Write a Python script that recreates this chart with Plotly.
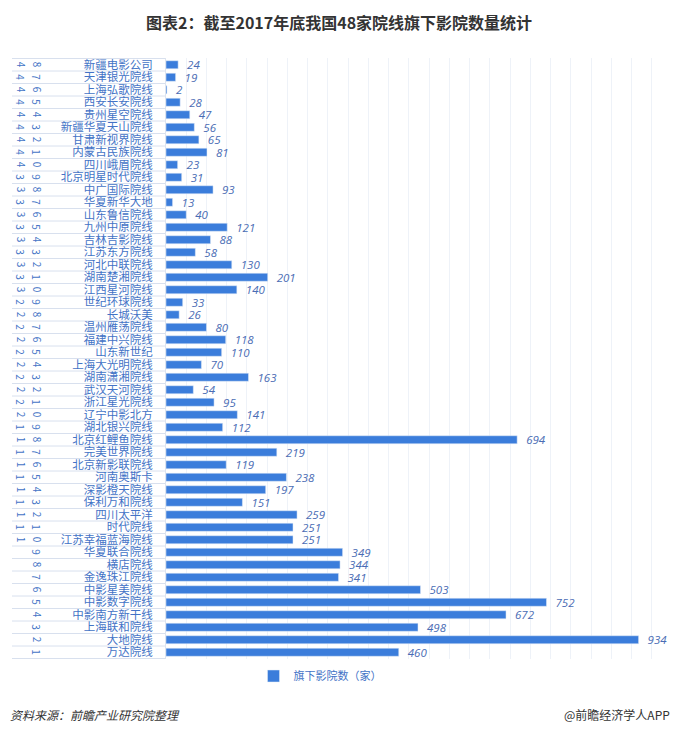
import plotly.graph_objects as go

# Data (top to bottom as in the chart)
ranks = [48, 47, 46, 45, 44, 43, 42, 41, 40, 39, 38, 37, 36, 35, 34, 33, 32, 31, 30, 29,
         28, 27, 26, 25, 24, 23, 22, 21, 20, 19, 18, 17, 16, 15, 14, 13, 12, 11, 10, 9,
         8, 7, 6, 5, 4, 3, 2, 1]
names = ["新疆电影公司", "天津银光院线", "上海弘歌院线", "西安长安院线", "贵州星空院线",
         "新疆华夏天山院线", "甘肃新视界院线", "内蒙古民族院线", "四川峨眉院线", "北京明星时代院线",
         "中广国际院线", "华夏新华大地", "山东鲁信院线", "九州中原院线", "吉林吉影院线",
         "江苏东方院线", "河北中联院线", "湖南楚湘院线", "江西星河院线", "世纪环球院线",
         "长城沃美", "温州雁荡院线", "福建中兴院线", "山东新世纪", "上海大光明院线",
         "湖南潇湘院线", "武汉天河院线", "浙江星光院线", "辽宁中影北方", "湖北银兴院线",
         "北京红鲤鱼院线", "完美世界院线", "北京新影联院线", "河南奥斯卡", "深影橙天院线",
         "保利万和院线", "四川太平洋", "时代院线", "江苏幸福蓝海院线", "华夏联合院线",
         "横店院线", "金逸珠江院线", "中影星美院线", "中影数字院线", "中影南方新干线",
         "上海联和院线", "大地院线", "万达院线"]
cinemas = [24, 19, 2, 28, 47, 56, 65, 81, 23, 31, 93, 13, 40, 121, 88, 58, 130, 201, 140, 33,
           26, 80, 118, 110, 70, 163, 54, 95, 141, 112, 694, 219, 119, 238, 197, 151, 259, 251, 251, 349,
           344, 341, 503, 752, 672, 498, 934, 460]
series_name = "旗下影院数（家）"
title = "图表2：截至2017年底我国48家院线旗下影院数量统计"
source = "资料来源：前瞻产业研究院整理"
brand = "@前瞻经济学人APP"

W, H = 680, 732
ML, MR, MT, MB = 166, 8, 58, 73
BAR = "#3b7ddb"
LBL = "#4373c6"
FONT = "Noto Sans CJK SC"
plot_w = W - ML - MR
plot_h = H - MT - MB


def px_x(px):
    return (px - ML) / plot_w


def px_y(py):
    return (H - MB - py) / plot_h


fig = go.Figure()
fig.add_trace(go.Bar(
    x=cinemas, y=names, orientation="h", name=series_name,
    marker=dict(color=BAR),
    text=cinemas, texttemplate="  %{x}", textposition="outside",
    constraintext="none",
    textfont=dict(family="Open Sans", size=11.5, color="#4a6cb4", style="italic"),
    cliponaxis=False, width=0.64,
))

# rotated rank digits and row separators in label area
for i, r in enumerate(ranks):
    s = str(r)
    digits = s if len(s) == 2 else " " + s
    for j, d in enumerate(digits):
        if d == " ":
            continue
        fig.add_annotation(x=px_x(21 + 16 * j), xref="paper", xanchor="center",
                           y=i, yref="y", yanchor="middle",
                           text=d, textangle=90, showarrow=False,
                           font=dict(family=FONT, size=10, color=LBL))
for i in range(len(names) + 1):
    fig.add_shape(type="line", xref="paper", yref="y", x0=px_x(12), x1=0,
                  y0=i - 0.5, y1=i - 0.5, line=dict(color="#d8e0ee", width=1), layer="below")

fig.add_annotation(x=px_x(339), xref="paper", xanchor="center",
                   y=px_y(22), yref="paper", yanchor="middle",
                   text="<b>" + title + "</b>", showarrow=False,
                   font=dict(family=FONT, size=16, color="#333333"))
fig.add_annotation(x=px_x(8), xref="paper", xanchor="left",
                   y=px_y(714), yref="paper", yanchor="middle",
                   text="<i>" + source + "</i>", showarrow=False,
                   font=dict(family=FONT, size=12, color="#333333"))
fig.add_annotation(x=px_x(672), xref="paper", xanchor="right",
                   y=px_y(714), yref="paper", yanchor="middle",
                   text=brand, showarrow=False,
                   font=dict(family=FONT, size=12, color="#333333"))

fig.update_layout(
    width=W, height=H, margin=dict(l=ML, r=MR, t=MT, b=MB),
    paper_bgcolor="white", plot_bgcolor="white",
    font=dict(family=FONT, size=12, color=LBL),
    showlegend=True,
    legend=dict(orientation="h", x=px_x(320), xanchor="center",
                y=px_y(676), yanchor="middle",
                font=dict(family=FONT, size=11, color=LBL), itemwidth=30),
    xaxis=dict(range=[0, 1000], dtick=40, showgrid=True, gridcolor="#eef2f8", gridwidth=1,
               showticklabels=False, zeroline=False, showline=False, fixedrange=True),
    yaxis=dict(autorange="reversed", type="category", categoryorder="array", categoryarray=names,
               tickmode="array", tickvals=names, ticktext=names,
               showline=True, linecolor="#dde4ef", linewidth=1, ticks="",
               ticklabelstandoff=10, tickfont=dict(family=FONT, size=11.5, color=LBL),
               showgrid=False, fixedrange=True),
    bargap=0.36,
)

fig.write_html("out.html", config={"displayModeBar": False},
               post_script="document.body.style.margin='0';document.body.style.padding='0';")
